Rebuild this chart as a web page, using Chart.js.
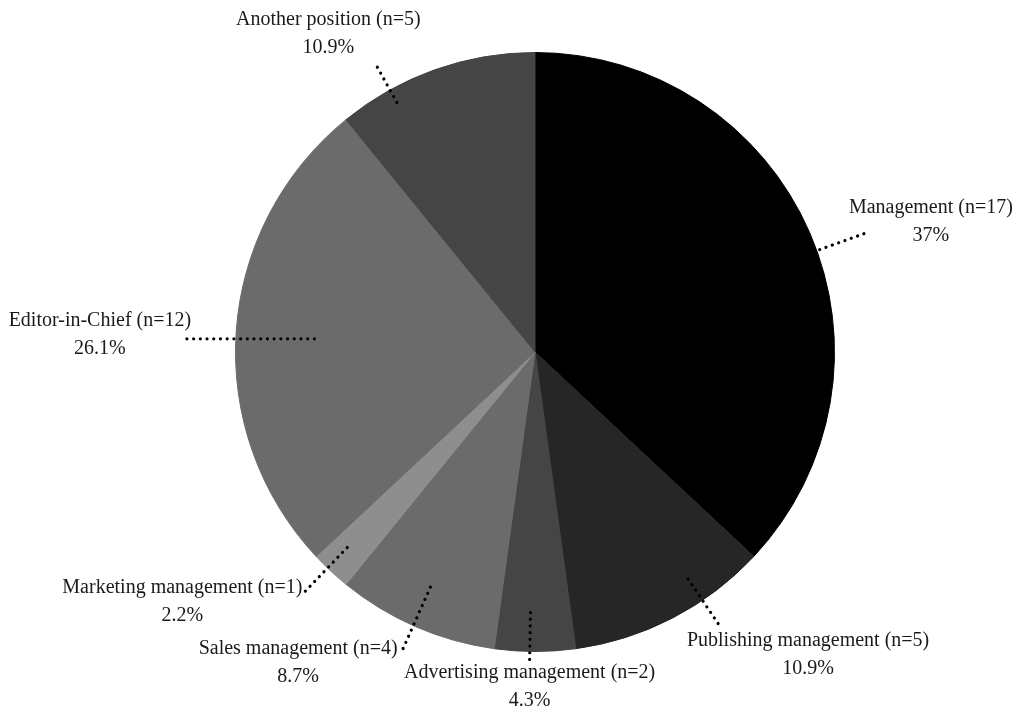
<!DOCTYPE html>
<html>
<head>
<meta charset="utf-8">
<script src="https://cdn.jsdelivr.net/npm/chart.js@4.4.0/dist/chart.umd.min.js"></script>
<style>
  html, body { margin: 0; padding: 0; background: #ffffff; }
  #wrap { width: 1013px; height: 715px; }
</style>
</head>
<body>
<div id="wrap"><canvas id="c" width="1013" height="715"></canvas></div>
<script>
// ---- data ----
const categories = ['Management', 'Publishing management', 'Advertising management', 'Sales management', 'Marketing management', 'Editor-in-Chief', 'Another position'];
const counts = [17, 5, 2, 4, 1, 12, 5];

// ---- style ----
const sliceColors = ['#000000', '#262626', '#454545', '#6b6b6b', '#8e8e8e', '#6b6b6b', '#454545'];
// leader/label layout: angle nudge (deg), leader inner/outer offset from pie edge (px), label block offset from leader end
const labelLayout = [
  { da: 3.7,  a: -40, b: 50, dx: 67,   dy: -12 },
  { da: -6.6, a: -32, b: 28, dx: 90,   dy: 31 },
  { da: 1.0,  a: -41, b: 8,  dx: 0,    dy: 27 },
  { da: 0.5,  a: -46, b: 25, dx: -105, dy: 14 },
  { da: 0.8,  a: -29, b: 32, dx: -123, dy: 11 },
  { da: -0.5, a: -79, b: 49, dx: -87,  dy: -4, flat: true },
  { da: -9.4, a: -19, b: 26, dx: -49,  dy: -33 }
];
const FONT = '20px "Liberation Serif", "Times New Roman", serif';
const LINE_GAP = 28;

const total = counts.reduce((s, v) => s + v, 0);
const pctText = counts.map(v => {
  let p = (v / total * 100).toFixed(1);
  if (p.endsWith('.0')) p = p.slice(0, -2);
  return p + '%';
});

const leaderPlugin = {
  id: 'leaders',
  afterDatasetsDraw(chart) {
    const ctx = chart.ctx;
    const meta = chart.getDatasetMeta(0);
    meta.data.forEach((arc, i) => {
      const L = labelLayout[i];
      const mid = (arc.startAngle + arc.endAngle) / 2 + L.da * Math.PI / 180;
      const R = arc.outerRadius;
      const cx = arc.x, cy = arc.y;
      const r1 = R + L.a, r2 = R + L.b;
      const x1 = cx + Math.cos(mid) * r1, y1 = cy + Math.sin(mid) * r1;
      let x2 = cx + Math.cos(mid) * r2, y2 = cy + Math.sin(mid) * r2;
      if (L.flat) {
        x2 = x1 + Math.sign(Math.cos(mid)) * (r2 - r1);
        y2 = y1;
      }
      ctx.save();
      ctx.strokeStyle = '#000000';
      ctx.lineWidth = 3.2;
      ctx.lineCap = 'round';
      ctx.setLineDash([0.01, 6.7]);
      ctx.beginPath();
      ctx.moveTo(x2, y2);
      ctx.lineTo(x1, y1);
      ctx.stroke();
      ctx.restore();

      const bx = x2 + L.dx, by = y2 + L.dy;
      ctx.save();
      ctx.font = FONT;
      ctx.fillStyle = '#1a1a1a';
      ctx.textAlign = 'center';
      ctx.textBaseline = 'middle';
      ctx.fillText(categories[i] + ' (n=' + counts[i] + ')', bx, by - LINE_GAP / 2);
      ctx.fillText(pctText[i], bx, by + LINE_GAP / 2);
      ctx.restore();
    });
  }
};

new Chart(document.getElementById('c'), {
  type: 'pie',
  data: {
    labels: categories,
    datasets: [{
      data: counts,
      backgroundColor: sliceColors,
      borderColor: sliceColors,
      borderWidth: 1,
      hoverOffset: 0
    }]
  },
  options: {
    responsive: false,
    animation: false,
    layout: { padding: { left: 235, right: 178, top: 52, bottom: 63 } },
    plugins: {
      legend: { display: false },
      tooltip: { enabled: false },
      title: { display: false }
    },
    events: []
  },
  plugins: [leaderPlugin]
});
</script>
</body>
</html>
